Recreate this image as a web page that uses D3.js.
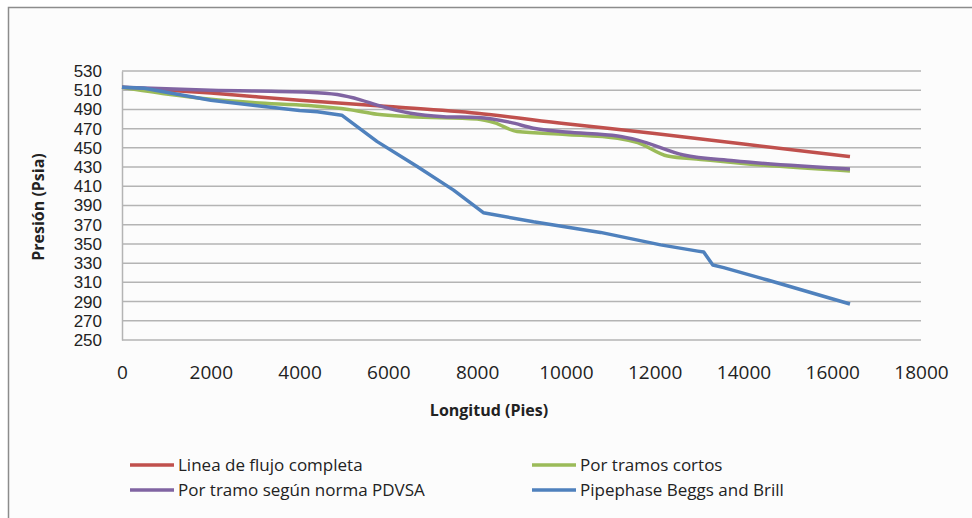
<!DOCTYPE html>
<html>
<head>
<meta charset="utf-8">
<script src="https://cdn.jsdelivr.net/npm/d3@7"></script>
<style>
  body { margin: 0; background: #fff; }
  svg { display: block; font-family: 'Open Sans', sans-serif; }
</style>
</head>
<body>
<div id="chart"></div>
<script>
// y ticks and x ticks
const yTicks = [250, 270, 290, 310, 330, 350, 370, 390, 410, 430, 450, 470, 490, 510, 530];
const xTicks = [0, 2000, 4000, 6000, 8000, 10000, 12000, 14000, 16000, 18000];

// series: [longitud, presion]
const lineaCompleta = [[0, 513], [2000, 507], [4000, 499.5], [6000, 493], [8000, 486], [10000, 475], [12000, 465], [14000, 454], [16400, 441]];
const tramosCortos = [[0, 513], [1000, 506], [2000, 500.5], [3000, 497], [4200, 494], [5100, 490], [5750, 485], [6500, 482.5], [8000, 480], [8400, 476], [8900, 467], [10000, 464], [11165, 460], [11616, 455.5], [12290, 441.5], [13040, 438], [14165, 433], [16400, 426]];
const tramoPdvsa = [[0, 513], [2000, 510], [4200, 508], [4850, 505.5], [5370, 500], [5750, 494.5], [6500, 486], [7240, 482.5], [8000, 481.5], [8750, 476.5], [9270, 470.5], [10000, 466.5], [11165, 462.3], [11616, 458], [12650, 442.5], [13780, 436.6], [16400, 428]];
const pipephase = [[0, 513], [500, 512], [2000, 499.5], [3000, 494], [4000, 489], [4400, 487.5], [4950, 484], [5750, 456.5], [6650, 430.5], [7470, 406], [8140, 382.5], [9270, 373], [10780, 362], [12135, 349], [12970, 342.5], [13105, 341.5], [13310, 328], [13555, 325.3], [14545, 312.4], [16400, 287.5]];

const seriesNames = ['Linea de flujo completa', 'Por tramos cortos', 'Por tramo según norma PDVSA', 'Pipephase Beggs and Brill'];
const seriesData = [lineaCompleta, tramosCortos, tramoPdvsa, pipephase];
const colors = ['#c0504d', '#9bbb59', '#8064a2', '#4f81bd'];

const W = 972, H = 518;
const plot = { left: 122, right: 921, top: 71, bottom: 340 };

const svg = d3.select('#chart').append('svg')
  .attr('width', W)
  .attr('height', H);

// chart area frame
svg.append('rect')
  .attr('x', 8.5).attr('y', 7.5)
  .attr('width', W + 10).attr('height', H + 10)
  .attr('fill', '#fcfcfc')
  .attr('stroke', '#8c8c8c')
  .attr('stroke-width', 1.5);

const x = d3.scaleLinear().domain([0, 18000]).range([plot.left, plot.right]);
const y = d3.scaleLinear().domain([250, 530]).range([plot.bottom, plot.top]);

// gridlines
svg.append('g')
  .selectAll('line')
  .data(yTicks)
  .enter()
  .append('line')
  .attr('x1', plot.left).attr('x2', plot.right)
  .attr('y1', d => y(d)).attr('y2', d => y(d))
  .attr('stroke', '#b4b4b4')
  .attr('stroke-width', 1.5);

// Y axis - labels are packed tight, so a font with a short line box
const yAxis = svg.append('g')
  .attr('transform', `translate(${plot.left},0)`)
  .call(d3.axisLeft(y).tickValues(yTicks).tickSize(0).tickPadding(20));
yAxis.select('.domain').attr('stroke', '#b4b4b4').attr('stroke-width', 1.5);
yAxis.selectAll('text')
  .style('font-family', 'Liberation Sans')
  .style('font-size', '17px')
  .attr('fill', '#222');

// X axis
const xAxis = svg.append('g')
  .attr('transform', `translate(0,${plot.bottom})`)
  .call(d3.axisBottom(x).tickValues(xTicks).tickFormat(d3.format('d')).tickSize(0).tickPadding(26));
xAxis.select('.domain').remove();
xAxis.selectAll('text')
  .style('font-family', 'Open Sans')
  .style('font-size', '19px')
  .attr('fill', '#222');

// axis titles
svg.append('text')
  .attr('transform', 'translate(44,207) rotate(-90)')
  .attr('text-anchor', 'middle')
  .style('font-size', '16px')
  .style('font-weight', 'bold')
  .attr('fill', '#222')
  .text('Presión (Psia)');

svg.append('text')
  .attr('x', 489).attr('y', 416)
  .attr('text-anchor', 'middle')
  .style('font-size', '16px')
  .style('font-weight', 'bold')
  .attr('fill', '#222')
  .text('Longitud (Pies)');

// lines: Excel-smoothed for the first three, straight segments for Pipephase
const smooth = d3.line()
  .x(d => x(d[0]))
  .y(d => y(d[1]))
  .curve(d3.curveMonotoneX);
const straight = d3.line()
  .x(d => x(d[0]))
  .y(d => y(d[1]));

svg.append('g')
  .selectAll('path')
  .data(seriesData)
  .enter()
  .append('path')
  .attr('d', (d, i) => i === 3 ? straight(d) : smooth(d))
  .attr('fill', 'none')
  .attr('stroke', (d, i) => colors[i])
  .attr('stroke-width', 3.5)
  .attr('stroke-linejoin', 'round');

// legend
const legendPos = [[130, 465], [532, 465], [130, 490], [532, 490]];
const legend = svg.append('g')
  .selectAll('g')
  .data(seriesNames)
  .enter()
  .append('g')
  .attr('transform', (d, i) => `translate(${legendPos[i][0]},${legendPos[i][1]})`);

legend.append('line')
  .attr('x1', 0).attr('x2', 44)
  .attr('stroke', (d, i) => colors[i])
  .attr('stroke-width', 3.5);

legend.append('text')
  .attr('x', 48)
  .attr('dy', '0.35em')
  .style('font-size', '17px')
  .attr('fill', '#222')
  .text(d => d);
</script>
</body>
</html>
